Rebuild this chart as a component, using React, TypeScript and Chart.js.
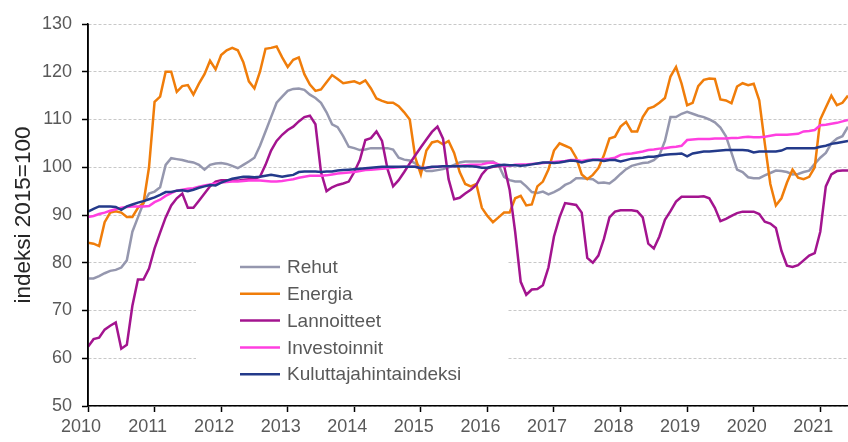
import React, { useEffect, useRef } from "react";
import { Chart, registerables } from "chart.js";

Chart.register(...registerables);

const seriesNames = ["Rehut", "Energia", "Lannoitteet", "Investoinnit", "Kuluttajahintaindeksi"];
const seriesColors = ["#9597AE", "#F07D0A", "#A3148F", "#FF3FE0", "#233A8A"];
const startYear = 2010;
const yearTicks = [2010, 2011, 2012, 2013, 2014, 2015, 2016, 2017, 2018, 2019, 2020, 2021];
const yTicks = [50, 60, 70, 80, 90, 100, 110, 120, 130];

// monthly values, Jan 2010 - Jun 2021
const rehut = [
  76.7, 76.7, 77.2, 77.8, 78.3, 78.5, 79, 80.5, 86.5, 89.5, 92.5, 94.5,
  94.9, 95.8, 100.5, 101.9, 101.7, 101.5, 101.2, 101, 100.5, 99.5, 100.5, 100.8,
  100.9, 100.7, 100.3, 99.8, 100.5, 101.2, 102, 104.5, 107.5, 110.5, 113.5, 114.8,
  116, 116.4, 116.5, 116.2, 115.2, 114.5, 113.5, 111.5, 109, 108.4, 106.5, 104.3,
  104, 103.6, 103.7, 104, 104, 104, 104, 103.7, 102, 101.6, 101.4, 100.8,
  100, 99.2, 99.2, 99.4, 99.6, 100, 100.5, 101, 101.2, 101.2, 101.2, 101.2,
  101.2, 101.2, 100.5, 98, 97.3, 97, 97, 96, 94.8, 94.6, 94.9, 94.3,
  94.8, 95.4, 96.3, 96.8, 97.7, 97.7, 97.6, 97.5, 96.7, 96.8, 96.6, 97.5,
  98.6, 99.6, 100.3, 100.6, 100.9, 101, 101.5, 102.5, 105.5, 110.5, 110.5, 111.2,
  111.6, 111.2, 110.8, 110.5, 110, 109.4, 108.3, 106.5, 103, 99.5, 99, 97.9,
  97.7, 97.7, 98.3, 98.8, 99.3, 99.2, 99, 98.5, 98.6, 99, 99.3, 100.7,
  102, 103, 105, 106, 106.5, 108.5,
];
const energia = [
  84.2, 84, 83.5, 88.5, 90.5, 90.8, 90.5, 89.6, 89.6, 91.5, 92.5, 100,
  113.7, 114.8, 120, 120, 115.8, 117, 117.2, 115.2, 117.5, 119.5, 122.3, 120.5,
  123.5, 124.5, 125, 124.5, 122, 118, 116.5, 120, 124.8, 125, 125.3, 123,
  121, 122.5, 123, 119.5, 117.3, 116, 116.3, 117.8, 119.3, 118.5, 117.6, 117.8,
  118, 117.5, 118.2, 116.5, 114.4, 113.9, 113.5, 113.5, 112.8, 111.5, 110, 102,
  98.5, 103.5, 105.2, 105.5, 104.8, 105.5, 103, 99, 96.5, 96, 96.5, 91.5,
  89.8, 88.5, 89.5, 90.5, 90.5, 93.5, 94, 92, 92.2, 96, 97, 99.5,
  103.5, 105, 104.5, 104, 102, 98.5, 97.5, 98.4, 99.8, 102.5, 106, 106.4,
  108.5, 109.5, 107.5, 107.5, 110.5, 112.3, 112.7, 113.5, 114.5, 119, 121, 117.5,
  113, 113.5, 117, 118.3, 118.6, 118.5, 114.2, 114, 113.4, 116.9, 117.6, 117.2,
  117.5, 114, 105, 96.5, 92, 93.5, 96.8, 99.5, 97.8, 97.5, 98, 100,
  110, 112.5, 115, 113, 113.5, 115,
];
const lannoitteet = [
  62.4, 64, 64.3, 66, 66.8, 67.5, 62, 62.8, 71, 76.5, 76.5, 78.8,
  83, 86.3, 89.5, 92, 93.5, 94.5, 91.5, 91.5, 93, 94.5, 96, 97,
  97.3, 97.3, 97.2, 97.2, 97.4, 97.5, 97.6, 98, 100.5, 103.5, 105.5, 106.8,
  107.8, 108.5, 109.6, 110.5, 110.8, 109, 99, 95, 95.8, 96.3, 96.6, 97,
  99, 101.5, 105.7, 106.1, 107.5, 105.5, 99.6, 96, 97.3, 99, 100.8, 102.5,
  104.2, 105.8, 107.4, 108.5, 106, 97.5, 93.3, 93.6, 94.5, 95.3, 96.3, 98.5,
  99.8, 100.1, 100.2, 100.3, 95.3, 86.5, 76, 73.3, 74.4, 74.5, 75.3, 79,
  85.5, 89.5, 92.5, 92.3, 92.1, 90.5, 81, 80, 81.5, 85, 89.5, 90.7,
  91, 91, 91, 90.8, 89.5, 84, 83, 85.5, 89, 90.8, 92.8, 93.8,
  93.8, 93.8, 93.8, 93.9, 93.5, 91.5, 88.7, 89.2, 89.8, 90.4, 90.7, 90.7,
  90.7, 90.2, 88.6, 88.2, 87.3, 82.5, 79.4, 79.1, 79.5, 80.5, 81.5, 82,
  86.5, 96, 98.5, 99.2, 99.3, 99.3,
];
const investoinnit = [
  89.6, 89.8, 90.2, 90.5, 90.9, 91.2, 91.5, 91.7, 91.8, 91.8, 91.8, 91.9,
  92.7, 93.2, 94, 94.6, 95.1, 95.3, 95.5, 95.6, 95.9, 96.2, 96.4, 96.6,
  96.8, 96.9, 97, 97, 97.1, 97.2, 97.3, 97.2, 97.1, 97, 97, 97.1,
  97.3, 97.5, 97.8, 98, 98.2, 98.2, 98.2, 98.3, 98.5, 98.7, 98.8, 98.9,
  99, 99.2, 99.4, 99.5, 99.6, 99.7, 99.8, 99.9, 100, 100.1, 100.1, 100.1,
  99.8, 99.9, 100, 100.1, 100.2, 100.2, 100.2, 100.3, 100.4, 100.5, 100.5, 100.6,
  100.9, 101, 100.6, 100.2, 100.3, 100.5, 100.6, 100.6, 100.7, 100.8, 100.9, 101,
  101.1, 101.2, 101.3, 101.5, 101.5, 101.3, 101.5, 101.6, 101.6, 101.7, 101.8, 102,
  102.6, 102.8, 102.9, 103.1, 103.3, 103.6, 103.7, 103.9, 104, 104.2, 104.3, 104.5,
  105.7, 105.8, 105.9, 105.9, 105.9, 106, 106, 106, 106.1, 106.1, 106.3, 106.4,
  106.3, 106.3, 106.4, 106.6, 106.8, 106.8, 106.8, 106.9, 107, 107.5, 107.6, 107.8,
  108.8, 108.9, 109.1, 109.3, 109.6, 109.9,
];
const kuluttajahintaindeksi = [
  90.7, 91.3, 91.8, 91.8, 91.8, 91.7, 91.1, 91.8, 92.2, 92.6, 92.9, 93.3,
  93.7, 94.2, 94.8, 94.8, 95.1, 95.2, 95, 95.3, 95.7, 96, 96.3, 96.2,
  96.8, 97.2, 97.6, 97.8, 98, 98, 97.9, 98, 98.2, 98.4, 98.2, 98,
  98.2, 98.4, 99, 99.1, 99.1, 99.1, 99, 99.1, 99.1, 99.3, 99.4, 99.5,
  99.6, 99.7, 99.8, 99.9, 100, 100.1, 100.1, 100.1, 100.1, 100.1, 100.1, 100.1,
  99.8, 99.9, 100.1, 100.1, 100.2, 100.2, 100.2, 100.2, 100.2, 100.2, 100.1, 99.9,
  99.9, 100.2, 100.4, 100.5, 100.4, 100.4, 100.3, 100.4, 100.6, 100.8, 101, 101,
  100.9, 101, 101.2, 101.4, 101.3, 101, 101.3, 101.5, 101.5, 101.3, 101.5, 101.5,
  101.2, 101.5, 101.8, 101.9, 102, 102.2, 102.2, 102.4, 102.6, 102.7, 102.8, 102.9,
  102.3, 102.9, 103.1, 103.3, 103.3, 103.4, 103.5, 103.6, 103.6, 103.6, 103.6, 103.5,
  103.1, 103.3, 103.3, 103.3, 103.3, 103.5, 104, 104, 104, 104, 104, 104,
  104.3, 104.5, 104.9, 105.1, 105.3, 105.5,
];

const allSeries = [rehut, energia, lannoitteet, investoinnit, kuluttajahintaindeksi];

const insideLegend = {
  id: "insideLegend",
  beforeDatasetsDraw(chart: any) {
    const { ctx, chartArea } = chart;
    const boxLeft = chartArea.left + 108;
    const boxTop = chartArea.top + 228;
    ctx.save();
    ctx.fillStyle = "#ffffff";
    ctx.fillRect(boxLeft, boxTop, 311, 138);
    ctx.font = '19px "Liberation Sans", Arial, sans-serif';
    ctx.textBaseline = "middle";
    ctx.textAlign = "left";
    seriesNames.forEach((name, i) => {
      const y = boxTop + 15 + i * 26.8;
      ctx.strokeStyle = seriesColors[i];
      ctx.lineWidth = 2.5;
      ctx.beginPath();
      ctx.moveTo(boxLeft + 44, y);
      ctx.lineTo(boxLeft + 84, y);
      ctx.stroke();
      ctx.fillStyle = "#595959";
      ctx.fillText(name, boxLeft + 91, y + 1);
    });
    ctx.restore();
  },
};

// solid black y-axis line on top of dashed grid lines
const solidAxis = {
  id: "solidAxis",
  afterDatasetsDraw(chart: any) {
    const { ctx, chartArea } = chart;
    ctx.save();
    ctx.strokeStyle = "#000000";
    ctx.lineWidth = 1.5;
    ctx.setLineDash([]);
    ctx.beginPath();
    ctx.moveTo(chartArea.left, chartArea.top);
    ctx.lineTo(chartArea.left, chartArea.bottom);
    ctx.stroke();
    ctx.restore();
  },
};

export default function App() {
  const canvasRef = useRef<HTMLCanvasElement | null>(null);

  useEffect(() => {
    if (!canvasRef.current) return;
    const datasets = allSeries.map((values, i) => ({
      label: seriesNames[i],
      data: values.map((v, m) => ({ x: m, y: v })),
      borderColor: seriesColors[i],
      backgroundColor: seriesColors[i],
      borderWidth: 2.5,
      pointRadius: 0,
      tension: 0,
      fill: false,
      order: allSeries.length - 1 - i,
    }));
    const lastIndex = rehut.length - 1;
    const chart = new Chart(canvasRef.current, {
      type: "line",
      data: { datasets },
      options: {
        animation: false,
        responsive: false,
        devicePixelRatio: 1,
        layout: { padding: { top: 24, left: 0, right: 0, bottom: 0 } },
        plugins: { legend: { display: false }, tooltip: { enabled: false } },
        scales: {
          x: {
            type: "linear",
            min: 0,
            max: lastIndex,
            afterBuildTicks: (scale: any) => {
              scale.ticks = yearTicks.map((yr) => ({ value: (yr - startYear) * 12 }));
            },
            afterFit: (scale: any) => {
              scale.height = 36;
            },
            border: { display: true, color: "#000000", width: 1.5 },
            grid: {
              display: true,
              drawOnChartArea: false,
              drawTicks: true,
              tickLength: 6,
              tickColor: "#000000",
              tickWidth: 1.5,
            },
            ticks: {
              color: "#595959",
              font: { family: '"Liberation Sans", Arial, sans-serif', size: 18 },
              padding: 4,
              maxRotation: 0,
              autoSkip: false,
              labelOffset: -7,
              callback: (v: any) => String(startYear + Math.round(Number(v) / 12)),
            },
          },
          y: {
            min: 50,
            max: 130,
            afterBuildTicks: (scale: any) => {
              scale.ticks = yTicks.map((v) => ({ value: v }));
            },
            afterFit: (scale: any) => {
              scale.width = 88;
            },
            border: { display: true, color: "#000000", width: 1.5, dash: [3, 2] },
            grid: {
              color: "#C8C8C8",
              lineWidth: 1,
              tickColor: "#000000",
              tickLength: 6,
              tickWidth: 1.5,
              drawTicks: true,
              tickBorderDash: [],
            },
            ticks: {
              color: "#595959",
              font: { family: '"Liberation Sans", Arial, sans-serif', size: 18 },
              padding: 10,
              autoSkip: false,
            },
            title: {
              display: true,
              text: "indeksi 2015=100",
              color: "#262626",
              font: { family: '"Liberation Sans", Arial, sans-serif', size: 22.5 },
              padding: { top: 10, bottom: 0 },
            },
          },
        },
      },
      plugins: [insideLegend, solidAxis],
    } as any);
    return () => chart.destroy();
  }, []);

  return (
    <div style={{ position: "absolute", left: 0, top: 0, width: 848, height: 442, background: "#ffffff" }}>
      <canvas ref={canvasRef} width={848} height={442} style={{ display: "block" }} />
    </div>
  );
}
